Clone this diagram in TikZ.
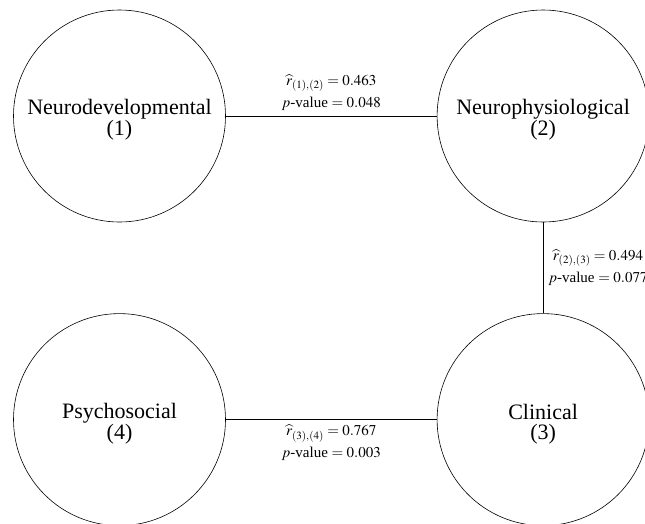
\documentclass[tikz,border=0pt]{standalone}
\usepackage{mathptmx}
\usepackage{fontspec}
\setmainfont{Liberation Serif}
\usetikzlibrary{positioning}

\begin{document}
\begin{tikzpicture}[
         factor/.style = {draw, circle, line width=0.6pt, minimum size=212pt,
         inner sep=0pt, align=center, text height=45pt, text depth=6pt,
         font=\fontsize{22}{19.6}\selectfont},
         link/.style = {line width=0.8pt},
         corr/.style = {align=center, inner sep=5pt,
         font=\fontsize{15}{22}\selectfont}]

   \useasboundingbox (0,0) rectangle (645pt,-523pt);

   % the four factors
   \node[factor] at (119.5pt,-116pt)          (neurodev)  {Neurodevelopmental\\(1)};
   \node[factor, right=211pt of neurodev]     (neurophys) {Neurophysiological\\(2)};
   \node[factor, below=91pt of neurophys]     (clinical)  {Clinical\\(3)};
   \node[factor, left=211pt of clinical]      (psychosoc) {Psychosocial\\(4)};

   % correlations between factors
   \draw[link] (neurodev) -- node[corr, above]
      {$\widehat{r}_{(1),(2)} = 0.463$\\$p$-value $= 0.048$} (neurophys);
   \draw[link] (neurophys) -- node[corr, right]
      {$\widehat{r}_{(2),(3)} = 0.494$\\$p$-value $= 0.077$} (clinical);
   \draw[link] (psychosoc) -- node[corr, below]
      {$\widehat{r}_{(3),(4)} = 0.767$\\$p$-value $= 0.003$} (clinical);

\end{tikzpicture}
\end{document}
